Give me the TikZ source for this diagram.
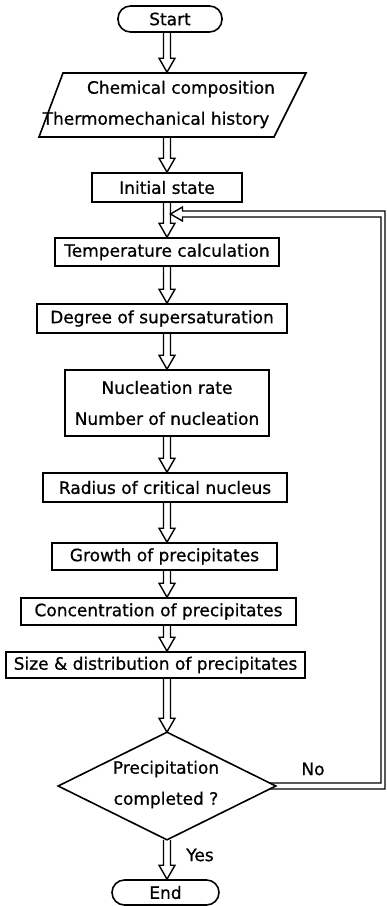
\documentclass[tikz,border=0pt]{standalone}
\usepackage{fontspec}
\setmainfont{DejaVu Sans}[FakeBold=0.8]
\usetikzlibrary{calc}
\newcommand\flowarrow[2]{%
  \path (#1.south -| ax) coordinate (fa1) (#2.north -| ax) coordinate (fa2);
  \draw[arr] ($(fa1)+(-3.5,0)$) -- ($(fa2)+(-3.5,-14)$) -- ($(fa2)+(-8,-14)$) -- (fa2)
    -- ($(fa2)+(8,-14)$) -- ($(fa2)+(3.5,-14)$) -- ($(fa1)+(3.5,0)$);
}
\begin{document}
\begin{tikzpicture}[x=1pt,y=-1pt,line width=1.6pt,
  txt/.style={inner sep=0pt,font=\fontsize{17}{31}\selectfont},
  box/.style={txt,draw,rectangle,align=center},
  term/.style={box,rounded corners=12.5pt},
  arr/.style={line width=1.4pt,line join=miter}]
\useasboundingbox (0,0) rectangle (387,906);
\coordinate (ax) at (167,0);
% nodes
\node[term,minimum width=104pt,minimum height=26pt] (start) at (170,19) {Start};
\node[inner sep=0pt,minimum width=200pt,minimum height=64pt] (input) at (172,105) {};
\draw (63,73) -- (306,73) -- (274,137) -- (39,137) -- cycle;
\node[txt] (in1) at (181,89) {Chemical composition};
\node[txt] (in2) at (156,120) {Thermomechanical history};
\node[box,minimum width=150pt,minimum height=29pt] (init) at (167,187.5) {Initial state};
\node[box,minimum width=224pt,minimum height=28pt] (temp) at (167,252) {Temperature calculation};
\node[box,minimum width=250pt,minimum height=29pt] (deg) at (162,318.5) {Degree of supersaturation};
\node[box,minimum width=204pt,minimum height=66pt] (nuc) at (167,403) {Nucleation rate\\Number of nucleation};
\node[box,minimum width=244pt,minimum height=29pt] (rad) at (165,487.5) {Radius of critical nucleus};
\node[box,minimum width=225pt,minimum height=27pt] (grow) at (164.5,556.5) {Growth of precipitates};
\node[box,minimum width=275pt,minimum height=27pt] (conc) at (158.5,611.5) {Concentration of precipitates};
\node[box,minimum width=299pt,minimum height=26pt] (size) at (155.5,665) {Size \& distribution of precipitates};
% decision
\node[inner sep=0pt,minimum width=216pt,minimum height=106pt] (dec) at (167,786) {};
\draw (dec.north) -- (dec.east) -- (dec.south) -- (dec.west) -- cycle;
\node[txt] (dec1) at (166,769) {Precipitation};
\node[txt] (dec2) at (166,800) {completed ?};
\node[term,minimum width=107pt,minimum height=25pt] (end) at (165.5,892.5) {End};
\node[txt] (no) at (313,769) {No};
\node[txt] (yes) at (200,855) {Yes};
% arrows
\flowarrow{start}{input}
\flowarrow{input}{init}
\flowarrow{init}{temp}
\flowarrow{temp}{deg}
\flowarrow{deg}{nuc}
\flowarrow{nuc}{rad}
\flowarrow{rad}{grow}
\flowarrow{grow}{conc}
\flowarrow{conc}{size}
\flowarrow{size}{dec}
\flowarrow{dec}{end}
% feedback
\coordinate (fbtip) at (170.5,214);
\coordinate (fbin) at (381,0);
\coordinate (fbout) at (385,0);
\draw[arr] ($(dec.east)+(-6,-3)$) -- ($(dec.east -| fbin)+(0,-3)$) -- ($(fbtip -| fbin)+(0,3)$)
  -- ($(fbtip)+(12,3)$) -- ($(fbtip)+(12,7)$) -- (fbtip) -- ($(fbtip)+(12,-7)$) -- ($(fbtip)+(12,-3)$)
  -- ($(fbtip -| fbout)+(0,-3)$) -- ($(dec.east -| fbout)+(0,3)$) -- ($(dec.east)+(-6,3)$);
\end{tikzpicture}
\end{document}
